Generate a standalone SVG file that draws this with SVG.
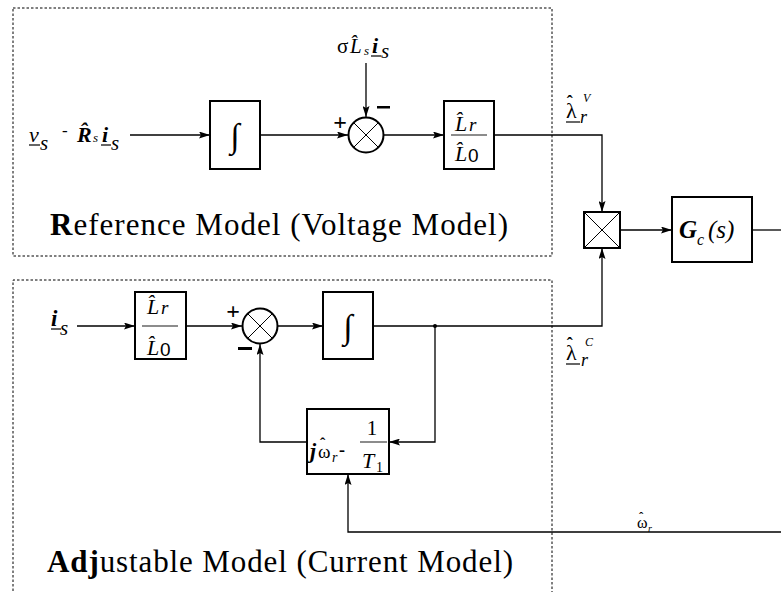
<svg xmlns="http://www.w3.org/2000/svg" width="781" height="592" viewBox="0 0 781 592" font-family="Liberation Serif, Times New Roman, serif">
<defs>
<marker id="ah" markerWidth="11" markerHeight="7" refX="11" refY="3.5" orient="auto" markerUnits="userSpaceOnUse"><path d="M0,0 L11,3.5 L0,7 L2,3.5 Z" fill="#000"/></marker>
</defs>
<style>
.blk{fill:#fff;stroke:#000;stroke-width:2}
.cn{fill:none;stroke:#000;stroke-width:1.3}
.cn.a{marker-end:url(#ah)}
.dash{fill:none;stroke:#000;stroke-width:1;stroke-dasharray:2.5,2}
text{fill:#000}
.it{font-style:italic}
.bi{font-style:italic;font-weight:bold}
.hat{font-weight:bold}
.ul{stroke:#000;stroke-width:1.2}
.fl{stroke:#666;stroke-width:1.5}
.title{font-size:31px}
</style>

<g id="reference-model-frame">
<rect class="dash" x="13" y="8" width="539" height="248"/>
<text class="title" x="50" y="235" textLength="458" lengthAdjust="spacing"><tspan font-weight="bold">R</tspan>eference Model (Voltage Model)</text>
</g>
<g id="adjustable-model-frame">
<path class="dash" d="M13,600 V280 H552 V600"/>
<text class="title" x="47" y="572" textLength="466" lengthAdjust="spacing"><tspan font-weight="bold">Adj</tspan>ustable Model (Current Model)</text>
</g>

<g id="connectors">
<line class="cn a" x1="130" y1="135" x2="210" y2="135"/>
<line class="cn a" x1="260" y1="135" x2="348" y2="135"/>
<line class="cn a" x1="366" y1="63" x2="366" y2="117"/>
<line class="cn a" x1="384" y1="135" x2="444" y2="135"/>
<path class="cn a" d="M494,135 H602 V212"/>
<line class="cn a" x1="620" y1="230" x2="672" y2="230"/>
<line class="cn" x1="752" y1="230" x2="781" y2="230"/>
<line class="cn a" x1="77" y1="326" x2="135" y2="326"/>
<line class="cn a" x1="186" y1="326" x2="242" y2="326"/>
<line class="cn a" x1="278" y1="326" x2="323" y2="326"/>
<path class="cn a" d="M373,326 H602 V248"/>
<path class="cn a" d="M435,326 V442 H389"/>
<path class="cn a" d="M307,442 H260 V344"/>
<path class="cn a" d="M781,532 H348 V474"/>
<circle cx="435" cy="326" r="2" fill="#000"/>
</g>

<g id="input-vs">
<text class="it" x="29" y="142" font-size="22">v</text>
<line class="ul" x1="29" y1="145" x2="40" y2="145"/>
<text class="it" x="40" y="150" font-size="21">s</text>
<text x="62" y="136" font-size="17">-</text>
<text class="bi" x="77" y="142" font-size="22">R̂</text>
<text class="it" x="93" y="142" font-size="13">s</text>
<text class="bi" x="102" y="142" font-size="22">i</text>
<line class="ul" x1="101" y1="145" x2="111" y2="145"/>
<text class="it" x="111" y="150" font-size="21">s</text>
</g>

<g id="integrator-ref">
<rect class="blk" x="210" y="101" width="50" height="68"/>
<text class="it" x="235" y="147" font-size="34" text-anchor="middle">∫</text>
</g>

<g id="input-sigma">
<text x="337" y="53" font-size="21">σ</text>
<text class="it" x="350" y="53" font-size="21">L̂</text>
<text class="it" x="364" y="55" font-size="13">s</text>
<text class="bi" x="372" y="53" font-size="22">i</text>
<line class="ul" x1="371" y1="56" x2="381" y2="56"/>
<text class="it" x="381" y="58" font-size="21">s</text>
</g>

<g id="sum-ref">
<circle cx="366" cy="135" r="17.5" fill="#fff" stroke="#000" stroke-width="2"/>
<path d="M353.6,122.6 L378.4,147.4 M378.4,122.6 L353.6,147.4" stroke="#000" stroke-width="1"/>
<text x="340" y="130" font-size="24" font-weight="bold" text-anchor="middle">+</text>
<rect x="377" y="106" width="13" height="2.5" fill="#000"/>
</g>

<g id="gain-ref">
<rect class="blk" x="444" y="101" width="50" height="68"/>
<text class="it" x="455" y="131" font-size="22">L̂</text>
<text class="it" x="469" y="131" font-size="19">r</text>
<line class="fl" x1="451" y1="135" x2="487" y2="135"/>
<text class="it" x="455" y="161" font-size="22">L̂</text>
<text x="468" y="162" font-size="19" font-family="Liberation Sans, sans-serif">0</text>
</g>

<g id="label-lambda-v">
<text x="566" y="118" font-size="22">λ<tspan class="hat" font-size="18" dx="-10" dy="-10">ˆ</tspan><tspan class="it" font-size="18" x="580" y="123">r</tspan><tspan class="it" font-size="12" x="583" y="102">V</tspan></text>
<line class="ul" x1="566" y1="122" x2="580" y2="122"/>
</g>

<g id="multiplier">
<rect class="blk" x="584" y="212" width="36" height="36"/>
<path d="M584,212 L620,248 M620,212 L584,248" stroke="#000" stroke-width="1"/>
</g>

<g id="controller">
<rect class="blk" x="672" y="197" width="80" height="65"/>
<text class="bi" x="679" y="238" font-size="25">G</text>
<text class="it" x="697" y="245" font-size="16">c</text>
<text class="it" x="708" y="238" font-size="25">(s)</text>
</g>

<g id="input-is">
<text class="bi" x="51" y="326" font-size="23">i</text>
<line class="ul" x1="51" y1="329" x2="61" y2="329"/>
<text class="it" x="60" y="335" font-size="21">s</text>
</g>

<g id="gain-adj">
<rect class="blk" x="135" y="292" width="51" height="67"/>
<text class="it" x="147" y="314" font-size="22">L̂</text>
<text class="it" x="161" y="314" font-size="19">r</text>
<line class="fl" x1="142" y1="326" x2="178" y2="326"/>
<text class="it" x="147" y="355" font-size="22">L̂</text>
<text x="160" y="356" font-size="19" font-family="Liberation Sans, sans-serif">0</text>
</g>

<g id="sum-adj">
<circle cx="260" cy="326" r="17.5" fill="#fff" stroke="#000" stroke-width="2"/>
<path d="M247.6,313.6 L272.4,338.4 M272.4,313.6 L247.6,338.4" stroke="#000" stroke-width="1"/>
<text x="233" y="319" font-size="24" font-weight="bold" text-anchor="middle">+</text>
<rect x="238" y="347" width="14" height="3" fill="#000"/>
</g>

<g id="integrator-adj">
<rect class="blk" x="323" y="292" width="50" height="67"/>
<text class="it" x="348" y="338" font-size="34" text-anchor="middle">∫</text>
</g>

<g id="label-lambda-c">
<text x="566" y="360" font-size="22">λ<tspan class="hat" font-size="18" dx="-10" dy="-10">ˆ</tspan><tspan class="it" font-size="18" x="581" y="366">r</tspan><tspan class="it" font-size="12" x="585" y="346">C</tspan></text>
<line class="ul" x1="566" y1="364" x2="580" y2="364"/>
</g>

<g id="feedback-block">
<rect class="blk" x="307" y="409" width="82" height="65"/>
<text x="310" y="458" font-size="19"><tspan class="bi" font-size="22">j</tspan><tspan x="318">ω</tspan><tspan class="hat" font-size="16" x="320" y="449">ˆ</tspan><tspan class="it" font-size="14" x="332" y="462">r</tspan><tspan font-size="18" font-weight="bold" x="339" y="456">-</tspan></text>
<text x="372" y="435" font-size="21" text-anchor="middle">1</text>
<line class="fl" x1="360" y1="442" x2="387" y2="442"/>
<text class="it" x="362" y="468" font-size="22">T</text>
<text x="376" y="472" font-size="14">1</text>
</g>

<g id="label-omega">
<text x="637" y="528" font-size="16">ω<tspan class="hat" font-size="13" x="639" y="521">ˆ</tspan><tspan class="it" font-size="10" x="648" y="532">r</tspan></text>
</g>
</svg>
